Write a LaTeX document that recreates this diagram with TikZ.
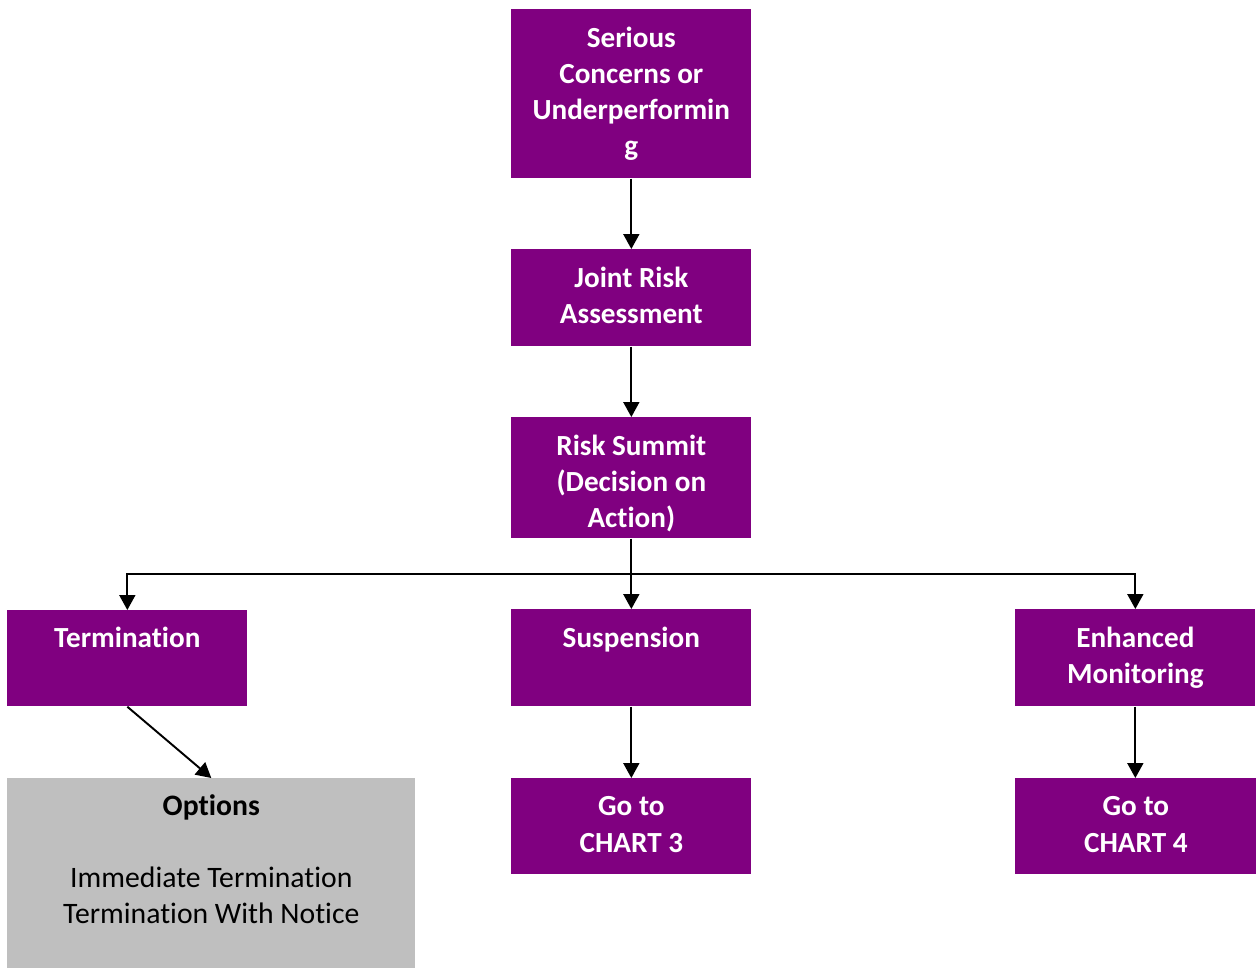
\documentclass[tikz,border=0pt]{standalone}
\usepackage{fontspec}
\setmainfont{Carlito}[Ligatures=NoCommon]
\usetikzlibrary{arrows.meta}
\definecolor{boxpurple}{HTML}{800080}
\definecolor{boxgray}{HTML}{BFBFBF}
% first-line strut so every label's first baseline sits at the same depth
\newcommand{\firststrut}{\rule{0pt}{0.5cm}}
\tikzset{
  pbox/.style={fill=boxpurple, draw=none, anchor=north west, inner sep=0pt,
    minimum width=4.8cm},
  gbox/.style={fill=boxgray, draw=none, anchor=north west, inner sep=0pt},
  lbl/.style={anchor=north, inner sep=0pt, align=center, text=white,
    font=\fontsize{16.6}{20.5}\selectfont\bfseries,
    execute at begin node=\firststrut},
  glbl/.style={lbl, text=black, font=\fontsize{16.9}{20.5}\selectfont},
  arr/.style={line width=1.1pt, -{Triangle[length=0.3cm,width=0.32cm]}},
  link/.style={line width=1.1pt}
}
\begin{document}
\begin{tikzpicture}[x=0.02cm, y=-0.02cm]
\useasboundingbox (0,0) rectangle (1256,968);

% purple process boxes
\node[pbox, minimum height=3.38cm] (serious) at (511,9) {};
\node[pbox, minimum height=1.94cm] (joint) at (511,249) {};
\node[pbox, minimum height=2.42cm] (summit) at (511,417) {};
\node[pbox, minimum height=1.92cm] (term) at (7,610) {};
\node[pbox, minimum height=1.94cm] (susp) at (511,609) {};
\node[pbox, minimum height=1.94cm] (enh) at (1015,609) {};
\node[pbox, minimum height=1.92cm] (chart3) at (511,778) {};
\node[pbox, minimum height=1.92cm, minimum width=4.82cm] (chart4) at (1015,778) {};
% grey options box
\node[gbox, minimum width=8.16cm, minimum height=3.8cm] (opts) at (7,778) {};

% labels
\node[lbl] (tserious) at ([yshift=-0.35cm]serious.north) {Serious\\Concerns or\\Underperformin\\g};
\node[lbl] (tjoint) at ([yshift=-0.35cm]joint.north) {Joint Risk\\Assessment};
\node[lbl] (tsummit) at ([yshift=-0.35cm]summit.north) {Risk Summit\\(Decision on\\Action)};
\node[lbl] (tterm) at ([yshift=-0.25cm]term.north) {Termination};
\node[lbl] (tsusp) at ([yshift=-0.27cm]susp.north) {Suspension};
\node[lbl] (tenh) at ([yshift=-0.35cm]enh.north) {Enhanced\\Monitoring};
\node[lbl] (tchart3) at ([yshift=-0.37cm]chart3.north) {Go to\\CHART 3};
\node[lbl] (tchart4) at ([yshift=-0.37cm]chart4.north) {Go to\\CHART 4};
\node[glbl] (topts) at ([yshift=-0.33cm]opts.north) {\textbf{Options}\\[20.5pt]Immediate Termination\\Termination With Notice};

% connectors
\coordinate (split) at (summit.south |- 0,574);
\draw[arr] (serious.south) -- (joint.north);
\draw[arr] (joint.south) -- (summit.north);
\draw[arr] (summit.south) -- (susp.north);
\draw[arr] (split) -| (term.north);
\draw[arr] (split) -| (enh.north);
\draw[arr] (susp.south) -- (chart3.north);
\draw[arr] (enh.south) -- (enh.south |- chart4.north);
\draw[arr] (term.south) -- (opts.north);
\end{tikzpicture}
\end{document}
